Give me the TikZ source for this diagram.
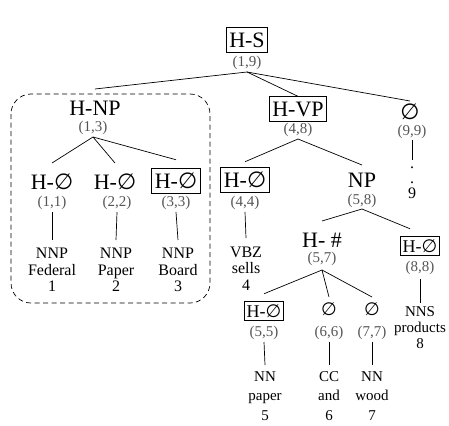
\documentclass[tikz,border=0pt]{standalone}
\usepackage{fontspec}
\setmainfont{Liberation Serif}
\newfontfamily\symfont{DejaVu Sans}
\newcommand\es{{\symfont ∅}}
\definecolor{spangray}{RGB}{85,85,85}
\begin{document}
\begin{tikzpicture}[x=1pt,y=-1pt,
  big/.style={font=\fontsize{22}{24}\selectfont, inner sep=0pt, text height=15.5pt, text depth=0pt},
  bigbox/.style={big, draw, line width=0.8pt, inner xsep=3pt, inner ysep=4.5pt},
  mid/.style={font=\fontsize{18}{20}\selectfont, inner sep=0pt, text height=12.5pt, text depth=0pt},
  midbox/.style={mid, draw, line width=0.8pt, inner xsep=2.5pt, inner ysep=3pt},
  spanlab/.style={font=\fontsize{15}{16}\selectfont, text=spangray, inner sep=0pt, text height=11pt, text depth=3.5pt, outer ysep=1.75pt},
  leaf/.style={font=\fontsize{16}{16.5}\selectfont, align=center, inner sep=0pt, anchor=north},
  lowleaf/.style={font=\fontsize{15}{19}\selectfont, align=center, inner sep=0pt, anchor=north},
  edge/.style={line width=0.7pt},
  region/.style={draw, dashed, dash pattern=on 5pt off 3.5pt, line width=0.7pt, rounded corners=20pt}]
\useasboundingbox (0,0) rectangle (449,425);

% dashed region
\draw[region] (11,94) rectangle (210,303);

% level 0
\node[bigbox] (hs) at (247,40) {H-S};
\node[spanlab] (s19) at (247,63) {(1,9)};

% level 1
\node[big, outer ysep=11.25pt] (hnp) at (95,108) {H-NP};
\node[spanlab] (s13) at (93,128) {(1,3)};
\node[bigbox] (hvp) at (298,109) {H-VP};
\node[spanlab] (s48) at (298,130) {(4,8)};
\node[big, text height=13pt, outer ysep=5.5pt] (e9) at (410,113) {\es};
\node[spanlab, outer ysep=0.75pt] (s99) at (412,132) {(9,9)};

% level 2 (H-NP children)
\node[big, outer ysep=11.25pt] (h1) at (52,182) {H-\es};
\node[spanlab] (s11) at (52,203) {(1,1)};
\node[big, outer ysep=11.25pt] (h2) at (115,182) {H-\es};
\node[spanlab] (s22) at (117,203) {(2,2)};
\node[bigbox, outer ysep=9pt] (h3) at (176,181) {H-\es};
\node[spanlab] (s33) at (176,203) {(3,3)};

% level 2 (H-VP children)
\node[bigbox, outer ysep=6pt] (h4) at (245,180) {H-\es};
\node[spanlab] (s44) at (245,203) {(4,4)};
\node[big, outer ysep=7.25pt] (np) at (362,180) {NP};
\node[spanlab, outer ysep=0.75pt] (s58) at (362,201) {(5,8)};

% level 3
\node[big, outer ysep=11.25pt] (hh) at (322,240) {H- \#};
\node[spanlab, outer ysep=3.75pt] (s57) at (322,259) {(5,7)};
\node[midbox, outer ysep=8pt] (h8) at (420,246) {H-\es};
\node[spanlab, outer ysep=3.75pt] (s88) at (420,268) {(8,8)};

% level 4
\node[midbox, outer ysep=8pt] (h5) at (264,311) {H-\es};
\node[spanlab] (s55) at (264,333) {(5,5)};
\node[mid, text height=11pt, outer ysep=7.5pt] (e6) at (329,310) {\es};
\node[spanlab] (s66) at (329,333) {(6,6)};
\node[mid, text height=11pt, outer ysep=7.5pt] (e7) at (372,310) {\es};
\node[spanlab] (s77) at (372,333) {(7,7)};

% leaves
\node[leaf, outer ysep=8.5pt] (l1) at (52,240) {NNP\\Federal\\1};
\node[leaf, outer ysep=8.5pt] (l2) at (116,240) {NNP\\Paper\\2};
\node[leaf, outer ysep=8.5pt] (l3) at (178,240) {NNP\\Board\\3};
\node[leaf, outer ysep=9pt] (l4) at (246,238) {VBZ\\sells\\4};
\node[leaf, font=\fontsize{16}{15}\selectfont, outer ysep=7pt] (l9) at (412,160) {.\\.\\9};
\node[lowleaf, font=\fontsize{15}{16}\selectfont, outer ysep=3.5pt] (l8) at (420,303) {NNS\\products\\8};
\node[lowleaf, outer ysep=7pt] (l5) at (265,365) {NN\\paper\\[1pt]5};
\node[lowleaf, outer ysep=7pt] (l6) at (329,365) {CC\\and\\[1pt]6};
\node[lowleaf, outer ysep=7pt] (l7) at (372,365) {NN\\wood\\[1pt]7};

% edges
\draw[edge] (s19.south) -- (hnp.north);
\draw[edge] (s19.south) -- (hvp.north);
\draw[edge] (s19.south) -- (e9.north);
\draw[edge] (s13.south) -- (h1.north);
\draw[edge] (s13.south) -- (h2.north);
\draw[edge] (s13.south) -- (h3.north);
\draw[edge] (s48.south) -- (h4.north);
\draw[edge] (s48.south) -- (np.north);
\draw[edge] (s58.south) -- (hh.north);
\draw[edge] (s58.south) -- ([xshift=-10pt]h8.north);
\draw[edge] (s57.south) -- (h5.north);
\draw[edge] (s57.south) -- (e6.north);
\draw[edge] (s57.south) -- (e7.north);
\draw[edge] (s11.south) -- (l1.north);
\draw[edge] (s22.south) -- (l2.north);
\draw[edge] (s33.south) -- (l3.north);
\draw[edge] (s44.south) -- (l4.north);
\draw[edge] (s99.south) -- (l9.north);
\draw[edge] (s88.south) -- (l8.north);
\draw[edge] (s55.south) -- (l5.north);
\draw[edge] (s66.south) -- (l6.north);
\draw[edge] (s77.south) -- (l7.north);
\end{tikzpicture}
\end{document}
